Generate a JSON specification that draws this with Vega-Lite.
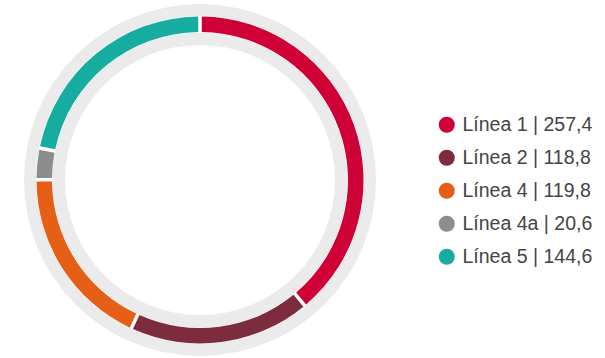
{
  "$schema": "https://vega.github.io/schema/vega-lite/v6.json",
  "autosize": "none",
  "width": 400,
  "height": 356,
  "padding": {"left": 0, "top": 2, "right": 205, "bottom": 0},
  "background": "white",
  "config": {"view": {"stroke": null}},
  "resolve": {"scale": {"theta": "independent"}},
  "datasets": {
    "lines": [
      {"linea": "Línea 1 | 257,4", "valor": 257.4, "orden": 1},
      {"linea": "Línea 2 | 118,8", "valor": 118.8, "orden": 2},
      {"linea": "Línea 4 | 119,8", "valor": 119.8, "orden": 3},
      {"linea": "Línea 4a | 20,6", "valor": 20.6, "orden": 4},
      {"linea": "Línea 5 | 144,6", "valor": 144.6, "orden": 5}
    ],
    "ring": [{"parte": "anillo", "valor": 1}]
  },
  "layer": [
    {
      "data": {"name": "ring"},
      "mark": {"type": "arc", "radius": 176, "radius2": 135, "color": "#ebebeb"},
      "encoding": {"theta": {"field": "valor", "type": "quantitative"}}
    },
    {
      "data": {"name": "ring"},
      "mark": {"type": "arc", "radius": 164, "radius2": 147.5, "color": "#ffffff"},
      "encoding": {"theta": {"field": "valor", "type": "quantitative"}}
    },
    {
      "data": {"name": "lines"},
      "mark": {"type": "arc", "radius": 163.5, "radius2": 148, "padAngle": 0.016},
      "encoding": {
        "theta": {"field": "valor", "type": "quantitative", "stack": true},
        "order": {"field": "orden", "type": "quantitative"},
        "color": {
          "field": "linea",
          "type": "nominal",
          "sort": null,
          "scale": {
            "domain": ["Línea 1 | 257,4", "Línea 2 | 118,8", "Línea 4 | 119,8", "Línea 4a | 20,6", "Línea 5 | 144,6"],
            "range": ["#cf0036", "#7d2c3e", "#e65f16", "#8e8d8d", "#16aca0"]
          },
          "legend": {
            "title": null,
            "orient": "none",
            "legendX": 437,
            "legendY": 113,
            "padding": 0,
            "symbolType": "circle",
            "symbolSize": 256,
            "symbolStrokeWidth": 0,
            "symbolOpacity": 1,
            "labelFont": "Liberation Sans",
            "labelFontSize": 19.5,
            "labelColor": "#444444",
            "labelOffset": 6,
            "labelLimit": 300,
            "rowPadding": 12
          }
        }
      }
    }
  ]
}
